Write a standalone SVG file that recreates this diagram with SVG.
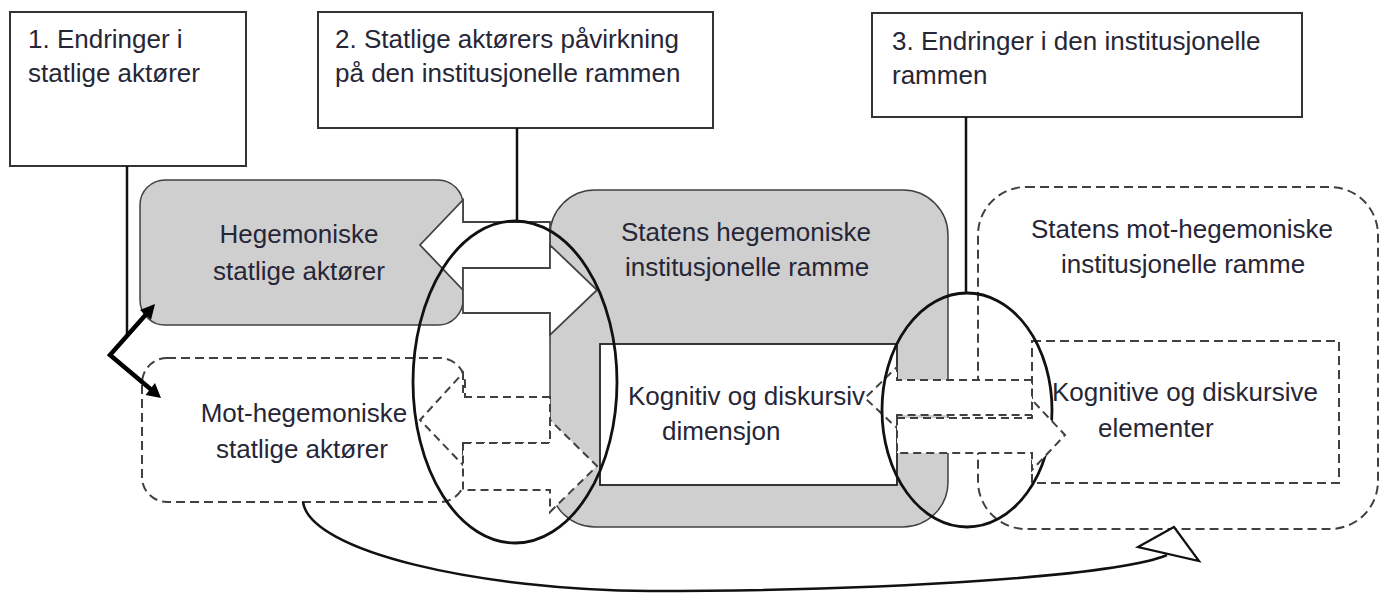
<svg xmlns="http://www.w3.org/2000/svg" width="1382" height="593" viewBox="0 0 1382 593">
<style>
  .t { font-family: "Liberation Sans", Arial, sans-serif; font-size: 26px; fill: #262636; }
  .box { fill: #ffffff; stroke: #333333; stroke-width: 2; }
  .gray { fill: #d0cfd0; stroke: #404040; stroke-width: 1.5; }
  .inner { fill: #ffffff; stroke: #222222; stroke-width: 1.8; }
  .dash { fill: none; stroke: #404040; stroke-width: 2; stroke-dasharray: 9 5; }
  .dashw { fill: #ffffff; stroke: #404040; stroke-width: 2; stroke-dasharray: 8 5; }
  .solidarrow { fill: #ffffff; stroke: #444444; stroke-width: 1.8; }
  .ell { fill: none; stroke: #111111; stroke-width: 2.8; }
  .line { fill: none; stroke: #111111; stroke-width: 2.5; }
</style>

<!-- Top label boxes -->
<g id="box1">
  <rect class="box" x="10" y="12" width="236" height="154"/>
  <text class="t" x="28" y="48">1. Endringer i</text>
  <text class="t" x="28" y="82">statlige aktører</text>
</g>
<g id="box2">
  <rect class="box" x="318" y="12" width="395" height="116"/>
  <text class="t" x="335" y="48">2. Statlige aktørers  påvirkning</text>
  <text class="t" x="335" y="82">på den institusjonelle rammen</text>
</g>
<g id="box3">
  <rect class="box" x="872" y="13" width="430" height="104"/>
  <text class="t" x="892" y="50">3. Endringer i den institusjonelle</text>
  <text class="t" x="892" y="84">rammen</text>
</g>

<!-- Pointer lines from label boxes -->
<g id="connectors-top">
  <line class="line" x1="127" y1="166" x2="127" y2="336"/>
  <line class="line" x1="517" y1="128" x2="517" y2="221"/>
  <line class="line" x1="966" y1="117" x2="966" y2="293"/>
</g>

<!-- Main shapes -->
<g id="hegemoniske">
  <rect class="gray" x="140" y="180" width="323" height="145" rx="25" ry="25"/>
</g>
<g id="statens-hegemoniske">
  <rect class="gray" x="550" y="190" width="398" height="337" rx="45" ry="45"/>
  <rect class="inner" x="600" y="344" width="297" height="141"/>
</g>
<g id="mot-hegemoniske">
  <rect class="dash" x="142" y="358" width="323" height="144" rx="25" ry="25"/>
</g>
<g id="statens-mot-hegemoniske">
  <rect class="dash" x="978" y="187" width="400" height="342" rx="48" ry="48"/>
  <rect class="dash" x="1032" y="341" width="307" height="142"/>
</g>

<!-- Block arrows and influence ellipses -->
<g id="connectors">
  <polygon id="arrowA" class="solidarrow" points="550,222 463,222 463,200 420,245 463,290 463,268 550,268"/>
  <polygon id="arrowB" class="solidarrow" points="463,268 550,268 550,245 597,290 550,335 550,313 463,313"/>
  <polygon id="arrowC" class="dashw" points="550,397 463,397 463,373 420,420 463,465 463,443 550,443"/>
  <polygon id="arrowD" class="dashw" points="463,443 550,443 550,420 597,466 550,512 550,490 463,490"/>
  <ellipse id="ellipse1" class="ell" cx="515" cy="382" rx="102" ry="161"/>
  <polygon id="arrowE" class="dashw" points="1032,380 897,380 897,367 865,398 897,428 897,415 1032,415"/>
  <ellipse id="ellipse2" class="ell" cx="967" cy="410" rx="85" ry="117"/>
  <polygon id="arrowF" class="dashw" points="897,418 1032,418 1032,400 1065,435 1032,470 1032,453 897,453"/>

  <!-- curved arrow bottom -->
  <path class="line" d="M303,502 C310,552 480,590 650,591 C900,591 1120,575 1167,555"/>
  <polygon points="1138,547 1174,527 1199,561" fill="#ffffff" stroke="#111111" stroke-width="2.2" stroke-linejoin="miter"/>

  <!-- thick V arrow -->
  <polyline points="149,311 110,355 154,392" fill="none" stroke="#000000" stroke-width="4.5" stroke-linejoin="miter"/>
  <polygon points="155,304 151,320 140,310" fill="#000000"/>
  <polygon points="161,398 145.5,395 155,383" fill="#000000"/>
</g>

<!-- Labels -->
<g id="labels">
  <text class="t" x="299" y="243" text-anchor="middle">Hegemoniske</text>
  <text class="t" x="299" y="280" text-anchor="middle">statlige aktører</text>
  <text class="t" x="746" y="241" text-anchor="middle">Statens hegemoniske</text>
  <text class="t" x="747" y="276" text-anchor="middle">institusjonelle ramme</text>
  <text class="t" x="628" y="405">Kognitiv og diskursiv</text>
  <text class="t" x="662" y="440">dimensjon</text>
  <text class="t" x="304" y="422" text-anchor="middle">Mot-hegemoniske</text>
  <text class="t" x="302" y="458" text-anchor="middle">statlige aktører</text>
  <text class="t" x="1182" y="238" text-anchor="middle">Statens mot-hegemoniske</text>
  <text class="t" x="1183" y="273" text-anchor="middle">institusjonelle ramme</text>
  <text class="t" x="1052" y="401">Kognitive og diskursive</text>
  <text class="t" x="1098" y="437">elementer</text>
</g>
</svg>
